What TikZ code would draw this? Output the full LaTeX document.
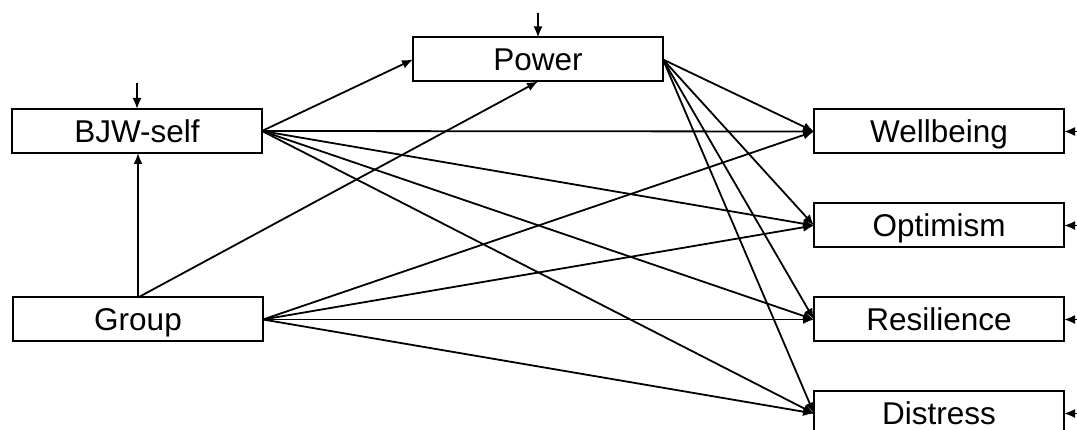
\documentclass[tikz,border=0pt]{standalone}
\usepackage{fontspec}
\setmainfont{Liberation Sans}
\usetikzlibrary{arrows.meta}
\begin{document}
\begin{tikzpicture}[x=1pt,y=-1pt,
  box/.style={draw,line width=2pt,rectangle,minimum width=250pt,minimum height=44pt,inner sep=0pt,outer sep=0pt,text height=22.5pt,text depth=0pt,font=\fontsize{31.5}{36}\selectfont},
  arr/.style={line width=1.8pt,-{Latex[length=11pt,width=9pt]}}]
\useasboundingbox (0,0) rectangle (1077,430);
\node[box] (bjw) at (137,131) {BJW-self};
\node[box] (grp) at (138,319.5) {Group};
\node[box] (pow) at (538,59.5) {Power};
\node[box] (wel) at (939,131.5) {Wellbeing};
\node[box] (opt) at (939,225.5) {Optimism};
\node[box] (res) at (939,319.5) {Resilience};
\node[box] (dis) at (939,413.5) {Distress};
\coordinate (ebjw) at (137,83);
\coordinate (epow) at (538,13);
\coordinate (ewel) at (1078,131.5);
\coordinate (eopt) at (1078,225.5);
\coordinate (eres) at (1078,319.5);
\coordinate (edis) at (1078,413.5);
\draw[arr] (ebjw) -- (bjw.north);
\draw[arr] (epow) -- (pow.north);
\foreach \n in {wel,opt,res,dis}{\draw[arr] (e\n) -- (\n.east);}
\draw[arr] (grp.north) -- (grp.north |- bjw.south);
\draw[arr] (grp.north) -- (pow.south);
\draw[arr] (bjw.east) -- (pow.west);
\foreach \s in {bjw,grp,pow}{
  \foreach \t in {wel,opt,res,dis}{
    \draw[arr] (\s.east) -- (\t.west);
  }
}
\end{tikzpicture}
\end{document}
